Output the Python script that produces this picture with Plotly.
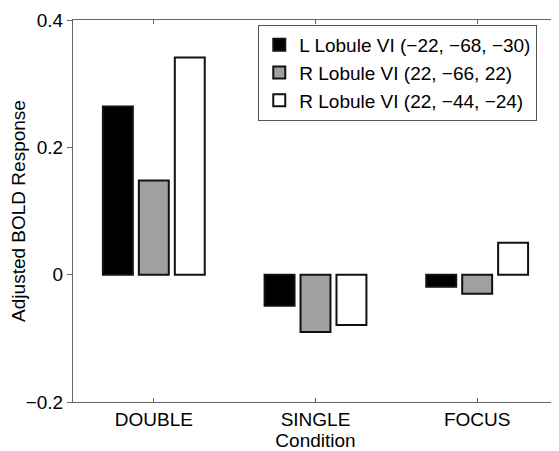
import plotly.graph_objects as go

categories = ["DOUBLE", "SINGLE", "FOCUS"]
cat_pos = [1, 2, 3]
series_names = ["L Lobule VI (\u221222, \u221268, \u221230)",
                "R Lobule VI (22, \u221266, 22)",
                "R Lobule VI (22, \u221244, \u221224)"]
l_lobule = [0.264, -0.049, -0.019]
r_lobule_a = [0.148, -0.090, -0.030]
r_lobule_b = [0.341, -0.079, 0.050]
y_ticks = [-0.2, 0, 0.2, 0.4]
y_ticktext = ["\u22120.2", "0", "0.2", "0.4"]

colors = ["#000000", "#a0a0a0", "#ffffff"]
FONT = "Liberation Sans, Arial, Helvetica, sans-serif"

fig = go.Figure()
for name, vals, c in zip(series_names, [l_lobule, r_lobule_a, r_lobule_b], colors):
    fig.add_trace(go.Bar(x=cat_pos, y=vals, name=name,
                         marker=dict(color=c, line=dict(color="#111111", width=2))))

fig.update_layout(
    width=551, height=443,
    margin=dict(l=65, r=1, t=12, b=49),
    paper_bgcolor="white", plot_bgcolor="white",
    barmode="group", bargap=0.333, bargroupgap=0.167,
    font=dict(family=FONT, size=19, color="#000000"),
    showlegend=True,
    legend=dict(x=0.382, y=0.987, xanchor="left", yanchor="top",
                bgcolor="white", bordercolor="#555555", borderwidth=1,
                font=dict(size=19), tracegroupgap=0, itemwidth=30,
                traceorder="normal"),
    xaxis=dict(range=[0.5, 3.5], tickvals=cat_pos, ticktext=categories,
               showgrid=False, zeroline=False, showline=True, linecolor="#666666",
               linewidth=1, mirror="ticks", ticks="inside", ticklen=4,
               tickcolor="#666666", automargin=False,
               title=dict(text="Condition", standoff=0, font=dict(size=19))),
    yaxis=dict(range=[-0.2, 0.4], tickvals=y_ticks, ticktext=y_ticktext,
               showgrid=False, zeroline=False, showline=True, linecolor="#666666",
               linewidth=1, mirror="ticks", ticks="outside", ticklen=5,
               tickcolor="#666666", automargin=False,
               title=dict(text="Adjusted BOLD Response", standoff=3, font=dict(size=19))),
)

fig.write_html("out.html")
